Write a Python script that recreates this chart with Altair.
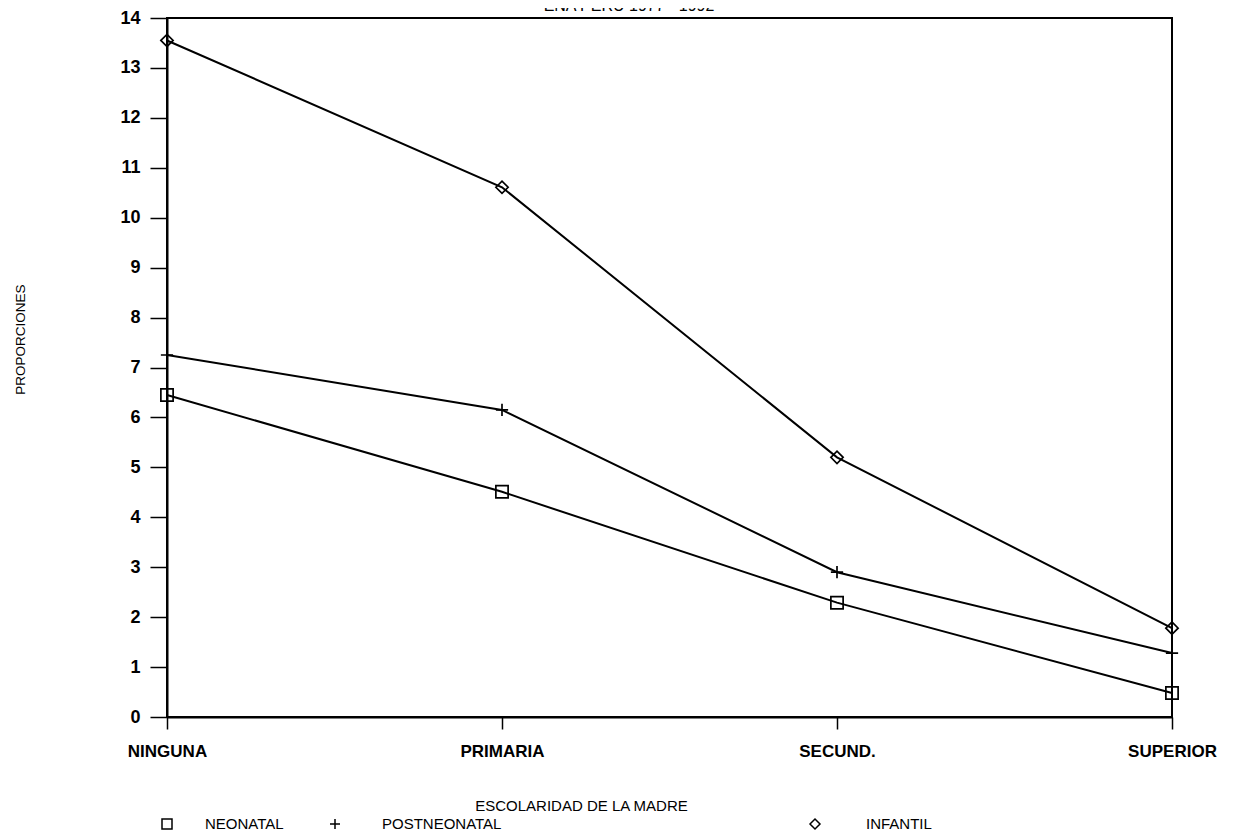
import altair as alt
import pandas as pd

categorias = ["NINGUNA", "PRIMARIA", "SECUND.", "SUPERIOR"]
series = ["NEONATAL", "POSTNEONATAL", "INFANTIL"]
neonatal = [6.45, 4.51, 2.29, 0.48]
postneonatal = [7.25, 6.15, 2.90, 1.28]
infantil = [13.55, 10.61, 5.20, 1.78]
y_ticks = list(range(0, 15))
titulo = "ENA PERU 1977 - 1992"

rows = []
for s, vals in zip(series, [neonatal, postneonatal, infantil]):
    for c, v in zip(categorias, vals):
        rows.append({"cat": c, "serie": s, "valor": v})
df = pd.DataFrame(rows)

FONT = "Liberation Sans"
W, H = 1005, 699
shapes = ["square", "M-1,0H1M0,-1V1", "diamond"]

x_enc = alt.X(
    "cat:N",
    sort=categorias,
    scale=alt.Scale(type="point", padding=0),
    axis=alt.Axis(
        title="ESCOLARIDAD DE LA MADRE",
        labelAngle=0,
        labelFontSize=17,
        labelFontWeight="bold",
        labelFont=FONT,
        labelPadding=14,
        labelOverlap=False,
        labelFlush=False,
        tickSize=12,
        titleFont=FONT,
        titleFontSize=15,
        titleFontWeight="normal",
        titleX=414,
        titleY=88,
        titleBaseline="middle",
        titleAnchor="start",
        titleAlign="center",
    ),
)
y_enc = alt.Y(
    "valor:Q",
    scale=alt.Scale(domain=[0, 14], nice=False, zero=True),
    axis=alt.Axis(
        title="PROPORCIONES",
        values=y_ticks,
        labelFontSize=18,
        labelFontWeight="bold",
        labelFont=FONT,
        labelPadding=10,
        tickSize=17,
        grid=False,
        titleFont=FONT,
        titleFontSize=13.5,
        titleFontWeight="normal",
        titleAngle=270,
        titleX=-147,
        titleY=321,
        titleAlign="center",
        titleBaseline="middle",
        titleAnchor="start",
    ),
)

lines = alt.Chart(df).mark_line(color="black", strokeWidth=2).encode(
    x=x_enc, y=y_enc, detail="serie:N"
)
points = alt.Chart(df).mark_point(
    color="black", filled=False, strokeWidth=1.7, size=150, opacity=1
).encode(
    x=x_enc,
    y=y_enc,
    shape=alt.Shape("serie:N", scale=alt.Scale(domain=series, range=shapes), legend=None),
)

title_layer = alt.Chart(pd.DataFrame({"t": [titulo]})).mark_text(
    font=FONT, fontSize=16, align="center", baseline="bottom", color="black"
).encode(x=alt.value(462), y=alt.value(-4), text="t:N")

legend_sym_x = [0, 168, 648]
legend_txt_x = [38, 215, 699]
legend_layers = []
for i, s in enumerate(series):
    d = pd.DataFrame({"serie": [s]})
    legend_layers.append(
        alt.Chart(d).mark_point(
            color="black", filled=False, strokeWidth=1.5, size=100, opacity=1, shape=shapes[i]
        ).encode(x=alt.value(legend_sym_x[i]), y=alt.value(806))
    )
    legend_layers.append(
        alt.Chart(d).mark_text(
            font=FONT, fontSize=15, align="left", baseline="middle", color="black"
        ).encode(x=alt.value(legend_txt_x[i]), y=alt.value(806), text="serie:N")
    )

chart = alt.layer(lines, points, title_layer, *legend_layers).properties(
    width=W,
    height=H,
    autosize=alt.AutoSizeParams(type="none"),
    padding={"left": 159, "top": 10, "right": 56, "bottom": 115},
    background="white",
).configure_view(
    stroke="black", strokeWidth=2
).configure_axis(
    domainColor="black",
    domainWidth=2,
    tickColor="black",
    tickWidth=1.5,
    labelColor="black",
    titleColor="black",
)

chart.save("out.html", embed_options={"renderer": "svg", "actions": False})
